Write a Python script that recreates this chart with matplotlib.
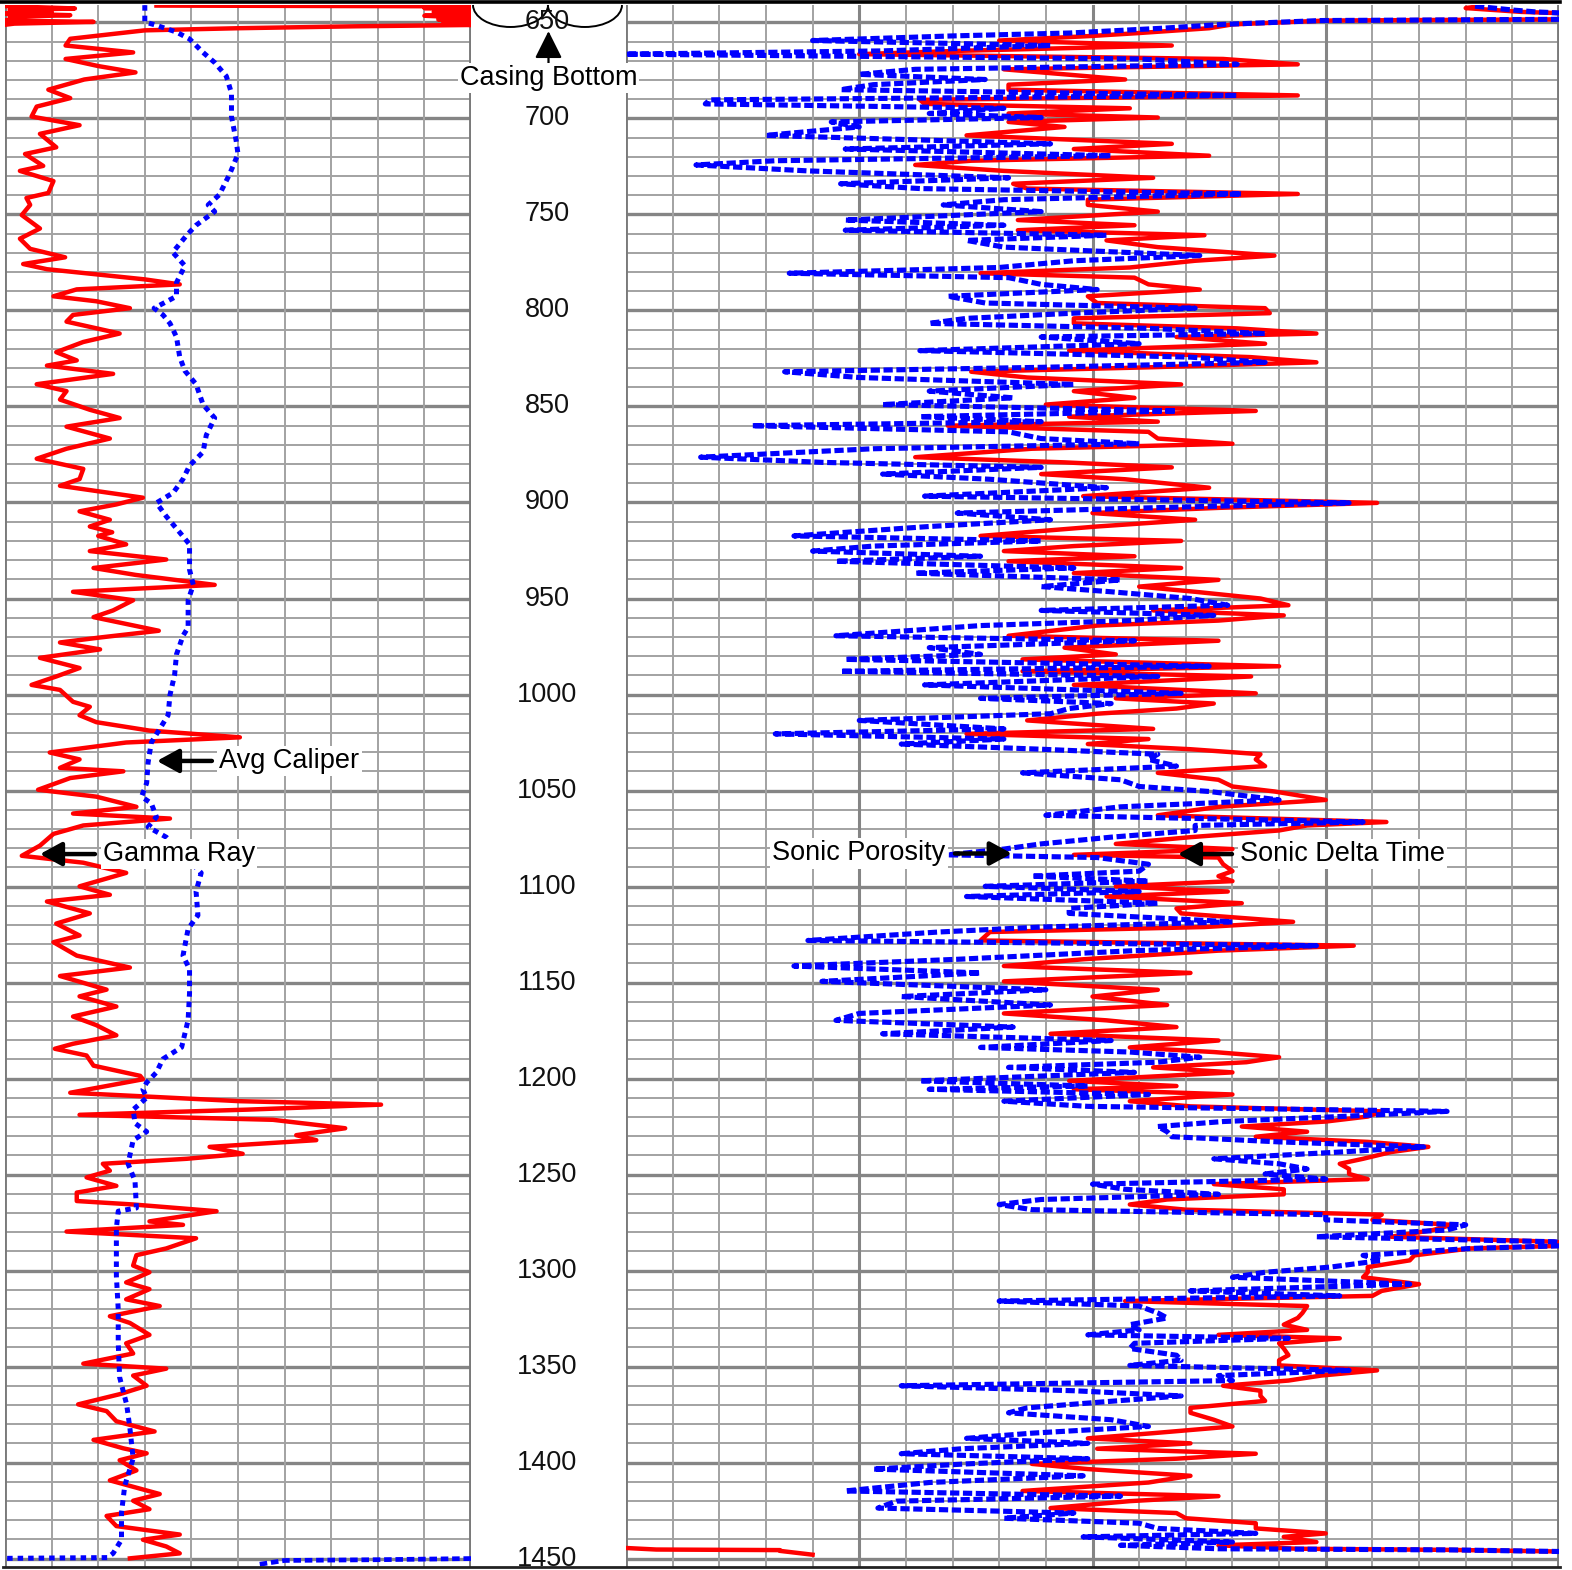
import matplotlib.pyplot as plt
from matplotlib.patches import Arc
from matplotlib.lines import Line2D

plt.rcParams['font.family'] = 'Liberation Sans'

# ---- data (track units: left track 0-10 divisions, right track 0-20 divisions)
depth_labels = list(range(650, 1451, 50))

gr_depth = [641.2, 641.6, 642.5, 643.5, 644.5, 645.5, 646.5, 647.5, 648.5, 649.5, 650.5, 651.3,
            652.0, 653.0, 654.1, 658.5, 662.0, 665.6, 669.0, 672.7, 676.0, 679.7, 685.0, 689.4,
            693.8, 699.0, 703.5, 708.0, 715.0, 718.5, 724.7, 727.3, 732.6, 738.8, 741.4, 745.0,
            750.3, 757.3, 762.6, 767.9, 772.3, 775.8, 778.5, 783.8, 786.4, 789.0, 792.6, 795.2,
            798.8, 802.3, 805.8, 812.0, 816.4, 821.7, 826.0, 828.7, 833.0, 838.4, 842.0, 846.4,
            851.7, 856.0, 860.5, 866.7, 872.0, 877.2, 882.5, 887.8, 891.3, 897.5, 901.0, 904.6,
            909.0, 912.5, 915.5, 917.4, 921.8, 925.3, 929.7, 934.1, 937.7, 942.9, 946.5, 950.9,
            956.2, 959.7, 966.8, 970.3, 972.9, 976.5, 980.9, 986.2, 990.6, 995.0, 997.6, 1003.8,
            1006.4, 1010.8, 1014.4, 1018.8, 1022.3, 1025.0, 1030.2, 1033.8, 1038.2, 1040.0, 1043.5, 1049.6,
            1053.2, 1058.5, 1062.0, 1064.6, 1068.2, 1072.6, 1078.7, 1084.0, 1087.6, 1092.9, 1099.9, 1104.3,
            1107.8, 1114.0, 1119.3, 1125.5, 1129.0, 1136.0, 1142.2, 1146.6, 1153.7, 1157.2, 1162.5, 1167.7,
            1172.2, 1177.5, 1181.9, 1184.5, 1188.0, 1193.3, 1198.6, 1200.4, 1207.4, 1211.8, 1213.6, 1216.2,
            1218.9, 1221.5, 1225.9, 1229.5, 1232.1, 1235.6, 1239.2, 1241.8, 1244.4, 1248.0, 1251.5, 1255.9,
            1259.4, 1263.8, 1265.6, 1269.1, 1274.4, 1276.2, 1279.7, 1283.2, 1288.5, 1292.0, 1297.4, 1300.9,
            1306.2, 1309.7, 1315.0, 1318.5, 1323.8, 1327.3, 1333.5, 1337.9, 1343.2, 1348.5, 1351.1, 1354.7,
            1360.0, 1364.4, 1369.7, 1373.2, 1378.5, 1383.8, 1388.2, 1392.6, 1395.2, 1398.8, 1404.1, 1409.3,
            1416.4, 1419.9, 1424.3, 1427.8, 1433.1, 1437.5, 1440.2, 1443.7, 1447.3, 1449.9]
gamma_ray = [3.25, 10.0, 9.0, 10.0, 9.2, 10.0, 9.0, 10.0, 9.3, 10.0, 9.4, 10.0,
             7.5, 5.0, 3.0, 1.4, 1.3, 2.75, 1.3, 2.0, 2.8, 1.7, 0.93, 1.4,
             0.68, 0.57, 1.6, 0.75, 1.1, 0.43, 0.82, 0.32, 1.04, 0.93, 0.46, 0.54,
             0.36, 0.75, 0.32, 0.54, 1.29, 0.39, 0.9, 3.0, 3.75, 1.54, 1.04, 1.96,
             2.68, 1.46, 1.32, 2.46, 1.68, 1.1, 1.54, 0.9, 2.32, 0.68, 1.32, 1.18,
             1.82, 2.46, 1.32, 2.25, 1.32, 0.68, 1.68, 1.6, 1.18, 2.96, 2.39, 1.6,
             2.25, 1.82, 2.3, 2.0, 2.6, 1.82, 3.46, 1.9, 2.8, 4.5, 1.46, 2.75,
             2.32, 1.9, 3.3, 2.04, 1.18, 2.04, 0.75, 1.6, 1.1, 0.57, 1.18, 1.46,
             1.82, 1.6, 1.96, 3.1, 5.04, 2.6, 0.96, 1.6, 1.18, 2.54, 1.4, 0.71,
             1.96, 2.82, 1.46, 3.54, 1.68, 1.04, 0.75, 0.36, 1.68, 2.6, 1.6, 2.25,
             0.9, 1.82, 1.1, 1.6, 1.04, 1.54, 2.68, 1.18, 2.18, 1.6, 2.39, 1.46,
             1.96, 2.39, 1.46, 1.07, 1.75, 1.9, 2.9, 2.96, 1.4, 5.04, 8.07, 5.2,
             1.6, 5.75, 7.3, 6.25, 6.68, 4.39, 5.1, 3.9, 2.1, 2.25, 1.75, 2.39,
             1.54, 1.54, 2.75, 4.54, 3.1, 3.82, 1.32, 4.1, 3.46, 2.82, 2.75, 3.1,
             2.6, 3.1, 2.6, 3.32, 2.25, 2.68, 3.1, 2.6, 2.75, 1.68, 3.46, 2.75,
             3.04, 2.46, 1.57, 2.18, 2.39, 3.21, 1.9, 2.54, 3.04, 2.46, 2.82, 2.25,
             3.32, 2.75, 3.1, 2.18, 2.39, 3.75, 2.96, 3.46, 3.75, 2.68]

# gamma ray wrapped onto backup scale near casing shoe
gr_wrap_depth = [641.5, 642.7, 643.5, 644.4, 645.3, 646.2, 647.1, 648.0, 649.0, 649.7, 650.6, 651.2]
gr_wrap = [0.0, 1.5, 0.1, 1.0, 0.0, 1.4, 0.1, 0.3, 0.0, 1.9, 0.2, 0.0]

cal_depth = [641.0, 649.7, 651.5, 655.0, 658.6, 665.6, 670.9, 678.0, 686.8, 699.0, 711.5, 718.5,
             729.0, 739.7, 745.0, 748.5, 755.6, 760.8, 769.7, 776.7, 785.5, 792.6, 798.8, 802.3,
             806.7, 813.8, 824.3, 831.4, 838.4, 849.0, 856.0, 864.9, 873.7, 880.8, 887.8, 894.9,
             900.2, 907.2, 915.6, 921.8, 935.0, 942.9, 950.9, 965.0, 969.4, 979.1, 989.7, 1000.3,
             1010.8, 1017.9, 1025.0, 1035.5, 1046.1, 1053.2, 1056.7, 1063.8, 1069.0, 1074.3, 1092.9, 1102.6,
             1115.0, 1122.0, 1136.0, 1143.1, 1155.5, 1169.5, 1183.7, 1189.8, 1196.8, 1202.1, 1205.6, 1210.0,
             1216.2, 1223.3, 1227.7, 1232.1, 1244.4, 1253.3, 1267.4, 1269.1, 1278.0, 1302.7, 1320.3, 1338.0,
             1355.6, 1369.7, 1382.0, 1397.9, 1412.0, 1426.1, 1440.2, 1447.3, 1449.5, 1449.9]
avg_caliper = [3.0, 3.0, 3.25, 3.68, 3.96, 4.25, 4.5, 4.75, 4.86, 4.86, 4.96, 5.0,
               4.82, 4.6, 4.36, 4.5, 4.1, 3.9, 3.6, 3.86, 3.68, 3.68, 3.2, 3.39,
               3.54, 3.68, 3.75, 3.86, 4.1, 4.25, 4.5, 4.32, 4.25, 3.96, 3.82, 3.61,
               3.25, 3.46, 3.75, 3.96, 3.96, 4.04, 3.93, 3.93, 3.82, 3.68, 3.64, 3.54,
               3.5, 3.32, 3.14, 3.07, 3.04, 2.93, 3.14, 3.25, 3.07, 3.46, 4.21, 4.1,
               4.14, 3.93, 3.82, 3.96, 3.96, 3.93, 3.79, 3.39, 3.25, 3.04, 2.96, 3.04,
               2.75, 2.79, 3.04, 2.75, 2.64, 2.79, 2.82, 2.43, 2.39, 2.39, 2.43, 2.43,
               2.46, 2.61, 2.68, 2.75, 2.57, 2.5, 2.5, 2.32, 2.2, 0.0]
cal_tail_depth = [1450.0, 1450.6, 1451.0, 1453.0]
cal_tail = [10.0, 8.0, 6.0, 5.46]

sonic_depth = [641.5, 642.5, 643.5, 644.5, 645.5, 648.3, 649.0, 651.0, 653.0, 655.5, 657.0, 659.4,
               662.0, 664.8, 666.5, 669.0, 671.8, 674.4, 677.0, 679.7, 682.4, 685.0, 688.0, 690.3,
               692.4, 694.7, 697.4, 699.5, 701.8, 704.4, 708.8, 713.2, 715.9, 719.4, 722.0, 724.2,
               727.3, 730.9, 734.0, 736.5, 739.3, 742.3, 745.0, 748.5, 752.9, 755.6, 758.2, 760.8,
               763.5, 767.0, 771.4, 774.1, 777.6, 780.6, 782.9, 786.4, 789.1, 792.6, 796.1, 798.8,
               801.4, 804.1, 806.7, 809.3, 812.0, 813.8, 817.3, 820.9, 824.3, 827.0, 829.6, 831.9,
               834.9, 838.5, 842.0, 845.5, 849.0, 852.3, 855.3, 857.9, 860.0, 863.2, 866.7, 869.4,
               872.0, 876.4, 879.1, 881.7, 885.2, 887.9, 892.3, 896.7, 900.2, 902.8, 905.5, 909.0,
               912.5, 917.4, 920.0, 922.7, 925.3, 928.0, 930.6, 934.1, 936.8, 940.3, 943.8, 946.5,
               950.0, 953.5, 956.2, 958.8, 961.5, 964.1, 969.4, 972.0, 975.6, 979.1, 981.7, 985.3,
               987.9, 990.6, 995.0, 999.4, 1002.0, 1004.7, 1007.3, 1010.0, 1013.5, 1017.9, 1020.5, 1023.2,
               1025.8, 1028.5, 1031.1, 1033.8, 1037.3, 1040.8, 1044.4, 1047.9, 1050.5, 1054.9, 1058.5, 1062.9,
               1066.4, 1068.2, 1070.8, 1074.3, 1077.8, 1080.5, 1083.5, 1084.9, 1088.4, 1092.0, 1094.6, 1097.2,
               1099.9, 1102.6, 1105.2, 1108.7, 1111.4, 1114.0, 1118.4, 1121.1, 1123.7, 1128.1, 1130.8, 1133.4,
               1137.9, 1141.4, 1145.0, 1149.4, 1153.8, 1157.3, 1161.7, 1166.1, 1169.7, 1173.2, 1176.7, 1180.2,
               1183.8, 1186.2, 1188.9, 1191.5, 1194.2, 1196.8, 1201.2, 1203.9, 1205.6, 1208.3, 1211.8, 1214.5,
               1217.1, 1219.8, 1222.4, 1225.0, 1227.7, 1230.3, 1233.0, 1235.6, 1238.3, 1241.8, 1244.4, 1247.1,
               1249.7, 1252.4, 1255.0, 1257.7, 1260.3, 1263.0, 1265.6, 1268.3, 1270.9, 1273.6, 1276.2, 1278.9,
               1282.4, 1285.0, 1286.8, 1288.5, 1292.1, 1294.7, 1298.2, 1300.9, 1303.5, 1307.1, 1310.6, 1313.2,
               1315.9, 1318.5, 1322.1, 1324.7, 1328.2, 1330.9, 1333.5, 1335.3, 1337.9, 1340.6, 1344.1, 1346.7,
               1349.4, 1352.0, 1354.7, 1357.3, 1360.0, 1362.6, 1365.3, 1367.9, 1371.5, 1374.1, 1377.7, 1381.2,
               1384.7, 1387.4, 1390.0, 1392.8, 1395.4, 1398.0, 1400.7, 1403.4, 1406.9, 1410.4, 1414.8, 1417.5,
               1420.1, 1423.7, 1426.3, 1429.0, 1431.6, 1434.3, 1436.9, 1438.7, 1441.4, 1443.1, 1444.9, 1445.5,
               1446.5]
delta_t = [18.3, 18.0, 18.6, 19.2, 20.5, 20.5, 15.0, 13.0, 12.5, 11.0, 10.0, 8.0,
           11.7, 7.1, 5.0, 12.8, 14.4, 8.1, 9.4, 10.7, 8.2, 8.2, 14.4, 6.3,
           6.4, 10.8, 8.2, 11.4, 8.2, 9.4, 7.3, 11.7, 9.6, 12.5, 7.4, 6.2,
           8.1, 11.3, 8.3, 8.6, 14.4, 9.9, 9.9, 11.4, 8.4, 10.9, 8.4, 12.4,
           10.3, 11.4, 13.9, 12.2, 10.8, 7.6, 10.9, 11.2, 12.3, 9.9, 10.1, 13.7,
           13.8, 9.6, 9.6, 13.1, 14.8, 11.8, 13.7, 9.5, 13.4, 14.8, 11.2, 7.4,
           8.6, 11.9, 9.6, 10.9, 9.0, 13.5, 9.5, 11.4, 6.9, 11.2, 11.4, 13.0,
           8.7, 6.2, 9.4, 11.7, 8.9, 10.7, 12.5, 9.8, 16.1, 12.7, 10.0, 12.2,
           10.1, 7.6, 11.9, 9.6, 8.1, 10.9, 8.2, 11.9, 9.6, 12.7, 11.0, 12.2,
           13.6, 14.2, 11.3, 14.1, 12.7, 10.1, 8.2, 12.7, 9.4, 10.5, 8.5, 14.0,
           8.5, 13.4, 9.6, 13.5, 10.5, 12.6, 11.8, 10.1, 8.6, 11.3, 7.3, 11.2,
           9.9, 12.1, 13.6, 13.5, 13.7, 11.4, 12.7, 13.0, 13.9, 15.0, 12.7, 11.4,
           16.3, 14.6, 14.0, 12.1, 10.5, 13.0, 9.6, 12.7, 12.8, 13.0, 12.7, 13.0,
           10.5, 12.9, 10.3, 13.2, 11.8, 11.9, 14.3, 12.4, 7.8, 7.6, 15.6, 12.7,
           9.8, 8.1, 12.1, 8.1, 11.4, 10.0, 11.6, 8.1, 10.3, 11.8, 9.1, 12.7,
           10.8, 12.6, 14.0, 13.3, 11.3, 13.0, 9.5, 11.8, 9.6, 13.0, 10.8, 12.1,
           16.2, 15.9, 15.0, 13.2, 14.6, 13.5, 15.9, 17.2, 16.4, 15.8, 15.3, 15.5,
           15.5, 15.9, 12.6, 14.1, 14.1, 11.6, 10.8, 12.0, 16.2, 16.0, 17.7, 17.3,
           16.4, 19.9, 20.5, 18.1, 16.9, 16.8, 15.9, 15.9, 15.8, 17.0, 16.2, 16.0,
           10.7, 14.6, 14.5, 14.4, 14.1, 14.6, 12.7, 15.3, 14.0, 14.1, 14.2, 14.0,
           14.0, 16.1, 14.9, 14.2, 12.8, 13.6, 13.6, 13.7, 12.1, 12.1, 12.6, 13.0,
           11.3, 9.9, 12.1, 10.1, 13.5, 11.8, 8.7, 9.9, 12.1, 11.2, 8.5, 12.7,
           10.8, 9.1, 11.8, 12.0, 13.5, 13.5, 15.0, 14.1, 14.8, 12.7, 14.4, 17.7,
           20.5]
sonic_porosity = [18.2, 18.6, 19.0, 19.5, 20.5, 20.5, 14.9, 12.8, 11.5, 9.5, 7.0, 4.0,
                  9.1, 5.5, 0.0, 11.0, 13.1, 6.2, 5.0, 7.7, 5.3, 4.6, 13.1, 1.8,
                  1.7, 8.1, 6.5, 8.9, 4.4, 5.0, 3.0, 9.1, 4.7, 10.4, 3.2, 1.5,
                  3.9, 8.2, 4.6, 6.3, 13.2, 8.1, 6.8, 8.9, 4.7, 8.1, 4.7, 10.3,
                  7.3, 8.1, 12.3, 9.6, 8.0, 3.5, 8.2, 8.9, 10.1, 6.9, 7.7, 12.2,
                  9.6, 7.3, 6.5, 11.2, 13.7, 8.9, 11.0, 6.3, 12.1, 13.7, 8.9, 3.4,
                  5.0, 9.6, 6.5, 8.3, 5.5, 11.8, 6.3, 8.9, 2.7, 8.2, 8.9, 11.0,
                  5.3, 1.6, 4.2, 8.9, 5.5, 7.8, 10.3, 6.4, 15.5, 11.2, 7.1, 9.1,
                  6.5, 3.6, 8.9, 5.3, 4.0, 7.6, 4.5, 9.6, 6.2, 10.6, 8.9, 10.4,
                  12.1, 12.9, 8.9, 12.6, 10.8, 7.6, 4.5, 10.9, 6.5, 7.6, 4.7, 12.5,
                  4.6, 11.4, 6.4, 11.9, 7.6, 10.4, 9.5, 9.1, 5.0, 8.1, 3.2, 8.1,
                  5.9, 8.9, 11.4, 11.2, 11.8, 8.5, 10.6, 11.0, 12.5, 14.0, 10.6, 9.0,
                  15.8, 12.2, 12.2, 10.4, 8.9, 8.1, 6.9, 10.1, 11.2, 11.0, 8.7, 11.2,
                  7.7, 11.0, 7.3, 11.4, 9.5, 9.5, 13.0, 8.9, 6.7, 3.9, 14.8, 10.9,
                  7.1, 3.6, 7.6, 4.2, 9.0, 5.9, 9.1, 5.0, 4.5, 8.3, 5.5, 10.4,
                  7.6, 10.8, 12.3, 11.4, 8.2, 10.9, 6.3, 9.9, 6.5, 11.2, 8.1, 9.9,
                  17.6, 15.3, 12.8, 11.4, 11.6, 11.7, 14.0, 17.1, 15.3, 12.6, 14.0, 14.6,
                  13.7, 15.0, 10.0, 10.7, 12.7, 8.9, 8.0, 8.7, 15.0, 15.0, 18.0, 17.6,
                  14.8, 19.9, 20.5, 18.1, 15.8, 16.2, 15.1, 13.7, 13.0, 16.8, 12.1, 15.3,
                  8.0, 11.0, 11.4, 11.6, 10.8, 11.0, 9.9, 14.2, 10.9, 10.8, 11.8, 11.9,
                  10.8, 15.5, 12.7, 13.0, 5.9, 9.6, 11.9, 10.5, 8.6, 8.2, 10.4, 11.2,
                  8.7, 7.3, 9.9, 7.2, 5.9, 9.9, 7.3, 5.3, 9.8, 6.5, 4.7, 10.6,
                  5.8, 5.4, 9.6, 8.1, 11.0, 11.4, 13.5, 9.8, 13.0, 10.6, 12.7, 17.7,
                  20.5]
# delta-t wrapped onto backup scale at total depth
dt_wrap_depth = [1444.5, 1445.3, 1445.6, 1446.0, 1448.0]
dt_wrap = [0.0, 0.65, 3.3, 3.3, 4.0]

# ---- layout
W, H = 1572.0, 1570.0
top_px, bot_px = 5, 1567
d_top, d_bot = 640.9, 1454.4

fig = plt.figure(figsize=(W / 100, H / 100), dpi=100)


def track(x0, x1):
    return fig.add_axes([x0 / W, (H - bot_px) / H, (x1 - x0) / W, (bot_px - top_px) / H])


def grid(ax, ndiv, heavy):
    ax.set_xlim(0, ndiv)
    ax.set_ylim(d_bot, d_top)
    for d in range(650, 1451, 10):
        major = d % 50 == 0
        ax.axhline(d, color='#858585' if major else '#a2a2a2', lw=2.4 if major else 1.4, zorder=0)
    for i in range(ndiv + 1):
        if i in (0, ndiv):
            ax.axvline(i, color='#7a7a7a', lw=2.8, zorder=0.5)
        elif heavy and i % heavy == 0:
            ax.axvline(i, color='#858585', lw=2.2, zorder=0)
        else:
            ax.axvline(i, color='#a2a2a2', lw=1.4, zorder=0)
    ax.set_xticks([])
    ax.set_yticks([])
    for s in ax.spines.values():
        s.set_visible(False)


ax_l = track(5, 471)
ax_r = track(626, 1559)
ax_d = track(471, 626)
ax_d.set_zorder(5)
ax_d.patch.set_visible(False)

grid(ax_l, 10, 0)
grid(ax_r, 20, 5)

# left track: gamma ray + caliper
ax_l.plot(gamma_ray, gr_depth, color='red', lw=3.2, zorder=2)
ax_l.plot(gr_wrap, gr_wrap_depth, color='red', lw=3.2, zorder=2)
ax_l.plot(avg_caliper, cal_depth, color='blue', lw=3.6, ls=(0, (1.1, 1.0)), zorder=3)
ax_l.plot(cal_tail, cal_tail_depth, color='blue', lw=3.4, ls=(0, (1.6, 0.8)), zorder=3)

# right track: sonic
ax_r.plot(delta_t, sonic_depth, color='red', lw=3.2, zorder=2)
ax_r.plot(dt_wrap, dt_wrap_depth, color='red', lw=3.2, zorder=2)
ax_r.plot(sonic_porosity, sonic_depth, color='blue', lw=3.7, ls=(0, (1.8, 0.7)), zorder=3)

# depth track
ax_d.set_xlim(0, 1)
ax_d.set_ylim(d_bot, d_top)
ax_d.axis('off')
for d in depth_labels:
    ax_d.text(0.49, d, str(d), ha='center', va='center', fontsize=19.5, color='#111111', zorder=2)

ax_d.add_patch(Arc((0.255, d_top), 0.484, 22.9, theta1=0, theta2=180, color='black', lw=1.4, clip_on=False))
ax_d.add_patch(Arc((0.735, d_top), 0.478, 22.9, theta1=0, theta2=180, color='black', lw=1.4, clip_on=False))

fs = 19.5
box = dict(facecolor='white', edgecolor='none', pad=1.5)
arrow = dict(arrowstyle='-|>,head_length=0.55,head_width=0.3', lw=3.2, color='black',
             shrinkA=0, shrinkB=0, mutation_scale=24)

ax_d.annotate('', xy=(0.5, 654.5), xytext=(0.5, 671.5),
              arrowprops=dict(arrowstyle='-|>,head_length=0.7,head_width=0.35', lw=1.6,
                              color='black', shrinkA=0, shrinkB=0, mutation_scale=24))
ax_d.text(0.5, 678.9, 'Casing Bottom', ha='center', va='center', fontsize=fs,
          bbox=box, zorder=6, clip_on=False)

ax_l.annotate('', xy=(3.26, 1034.6), xytext=(4.44, 1034.6), arrowprops=arrow, zorder=6)
ax_l.text(4.6, 1034.6, 'Avg Caliper', ha='left', va='center', fontsize=fs, bbox=box, zorder=6)
ax_l.annotate('', xy=(0.75, 1083.1), xytext=(1.93, 1083.1), arrowprops=arrow, zorder=6)
ax_l.text(2.1, 1083.1, 'Gamma Ray', ha='left', va='center', fontsize=fs, bbox=box, zorder=6)

ax_r.annotate('', xy=(8.27, 1082.8), xytext=(7.05, 1082.8), arrowprops=arrow, zorder=6)
ax_r.text(6.85, 1082.8, 'Sonic Porosity', ha='right', va='center', fontsize=fs, bbox=box, zorder=6)
ax_r.annotate('', xy=(11.83, 1083.1), xytext=(12.99, 1083.1), arrowprops=arrow, zorder=6)
ax_r.text(13.16, 1083.1, 'Sonic Delta Time', ha='left', va='center', fontsize=fs, bbox=box, zorder=6)

# black frame lines top and bottom
fig.add_artist(Line2D([0 / W, 1560 / W], [1 - 2 / H] * 2, color='black', lw=2.6))
fig.add_artist(Line2D([3 / W, 1560 / W], [1 - 1567 / H] * 2, color='#222222', lw=2.0))

fig.savefig('out.png', dpi=100)
